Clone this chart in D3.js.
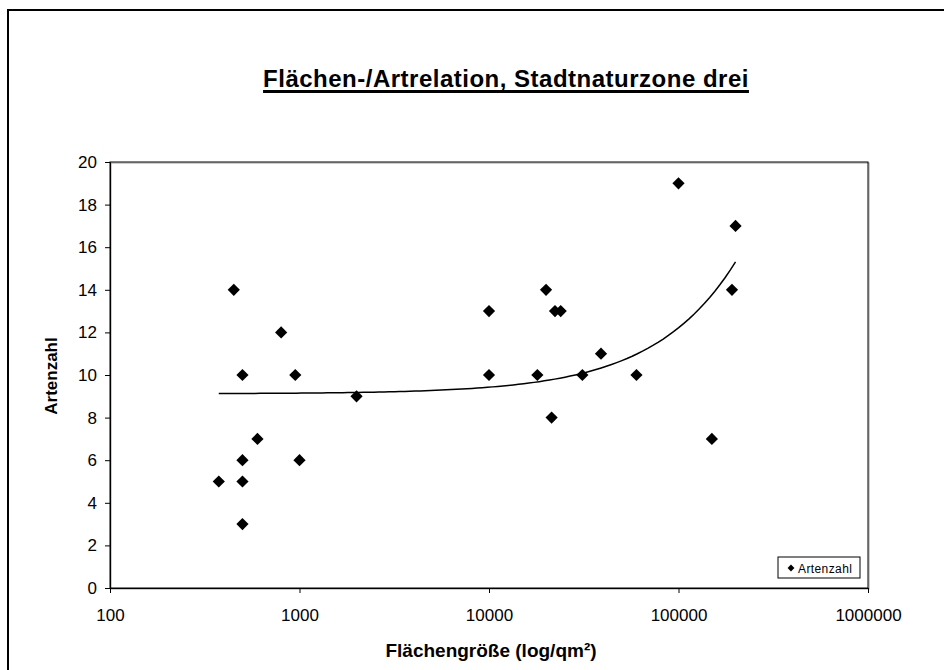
<!DOCTYPE html>
<html>
<head>
<meta charset="utf-8">
<script src="https://cdn.jsdelivr.net/npm/d3@7"></script>
<style>
  body { margin: 0; background: #fff; }
  text { font-family: Arial, "Liberation Sans", sans-serif; }
</style>
</head>
<body>
<svg id="vis-svg" width="944" height="670"></svg>
<script>
// Flächengröße (qm) and Artenzahl
var flaeche = [450, 800, 500, 950, 2000, 600, 500, 1000, 375, 500, 500,
               10000, 10000, 20000, 22300, 23900, 18000, 21400, 31100, 39000,
               60000, 100000, 150000, 191500, 200000];
var artenzahl = [14, 12, 10, 10, 9, 7, 6, 6, 5, 5, 3,
                 13, 10, 14, 13, 13, 10, 8, 10, 11,
                 10, 19, 7, 14, 17];
var xTicks = [100, 1000, 10000, 100000, 1000000];
var yTicks = [0, 2, 4, 6, 8, 10, 12, 14, 16, 18, 20];

var width = 944;
var height = 670;
var plot = { left: 110, top: 162, right: 868, bottom: 588 };

var svg = d3.select("#vis-svg");

// outer chart frame (runs off the right and bottom)
svg.append("path")
  .attr("d", "M8,672 L8,10 L946,10")
  .attr("fill", "none")
  .attr("stroke", "#000")
  .attr("stroke-width", 2);

var x = d3.scaleLog()
  .domain([100, 1000000])
  .range([plot.left, plot.right]);

var y = d3.scaleLinear()
  .domain([0, 20])
  .range([plot.bottom, plot.top]);

// title
var title = svg.append("text")
  .attr("x", 506)
  .attr("y", 87)
  .attr("text-anchor", "middle")
  .style("font-size", "24px")
  .style("font-weight", "bold")
  .style("letter-spacing", "0.5px")
  .text("Flächen-/Artrelation, Stadtnaturzone drei");
var tb = title.node().getBBox();
svg.append("line")
  .attr("x1", tb.x).attr("x2", tb.x + tb.width)
  .attr("y1", 91.5).attr("y2", 91.5)
  .attr("stroke", "#000")
  .attr("stroke-width", 3);

// plot area frame
svg.append("rect")
  .attr("x", plot.left + 1)
  .attr("y", plot.top + 1)
  .attr("width", plot.right - plot.left)
  .attr("height", plot.bottom - plot.top)
  .attr("fill", "none")
  .attr("stroke", "#999");
svg.append("rect")
  .attr("x", plot.left)
  .attr("y", plot.top)
  .attr("width", plot.right - plot.left)
  .attr("height", plot.bottom - plot.top)
  .attr("fill", "none")
  .attr("stroke", "#000");

// axes
var xAxis = svg.append("g")
  .attr("transform", "translate(0," + plot.bottom + ")")
  .call(d3.axisBottom(x).tickValues(xTicks).tickFormat(d3.format("d")).tickSize(5).tickPadding(16));
var yAxis = svg.append("g")
  .attr("transform", "translate(" + plot.left + ",0)")
  .call(d3.axisLeft(y).tickValues(yTicks).tickSize(5).tickPadding(8));

[xAxis, yAxis].forEach(function(a) {
  a.select(".domain").attr("stroke", "#000");
  a.selectAll(".tick line").attr("stroke", "#000");
  a.selectAll("text")
    .style("font-size", "17px")
    .style("font-family", "Arial, 'Liberation Sans', sans-serif")
    .attr("fill", "#000");
});

// axis titles
svg.append("text")
  .attr("x", 491)
  .attr("y", 657)
  .attr("text-anchor", "middle")
  .style("font-size", "19px")
  .style("font-weight", "bold")
  .text("Flächengröße (log/qm²)");

svg.append("text")
  .attr("transform", "translate(57,376) rotate(-90)")
  .attr("text-anchor", "middle")
  .style("font-size", "17px")
  .style("font-weight", "bold")
  .text("Artenzahl");

// linear trend line (least squares on the raw values, like Excel)
var n = flaeche.length;
var mx = d3.mean(flaeche), my = d3.mean(artenzahl);
var sxy = 0, sxx = 0;
for (var i = 0; i < n; i++) {
  sxy += (flaeche[i] - mx) * (artenzahl[i] - my);
  sxx += (flaeche[i] - mx) * (flaeche[i] - mx);
}
var slope = sxy / sxx;
var icept = my - slope * mx;

var xmin = d3.min(flaeche), xmax = d3.max(flaeche);
var trendX = d3.range(0, 101).map(function(k) {
  return xmin * Math.pow(xmax / xmin, k / 100);
});

svg.append("path")
  .datum(trendX)
  .attr("fill", "none")
  .attr("stroke", "#000")
  .attr("stroke-width", 1.5)
  .attr("d", d3.line()
    .x(function(d) { return x(d); })
    .y(function(d) { return y(icept + slope * d); }));

// diamonds
var diamond = d3.symbol().type(d3.symbolDiamond2).size(95);
svg.append("g").selectAll("path")
  .data(flaeche)
  .enter()
  .append("path")
  .attr("d", diamond)
  .attr("transform", function(d, i) {
    return "translate(" + x(d) + "," + y(artenzahl[i]) + ")";
  })
  .attr("fill", "#000");

// legend
var legend = svg.append("g").attr("transform", "translate(778,557)");
legend.append("rect")
  .attr("width", 82)
  .attr("height", 21)
  .attr("fill", "#fff")
  .attr("stroke", "#000");
legend.append("path")
  .attr("d", d3.symbol().type(d3.symbolDiamond2).size(30))
  .attr("transform", "translate(13,11)")
  .attr("fill", "#000");
legend.append("text")
  .attr("x", 20)
  .attr("y", 15.5)
  .style("font-size", "12px")
  .style("letter-spacing", "0.4px")
  .text("Artenzahl");
</script>
</body>
</html>
